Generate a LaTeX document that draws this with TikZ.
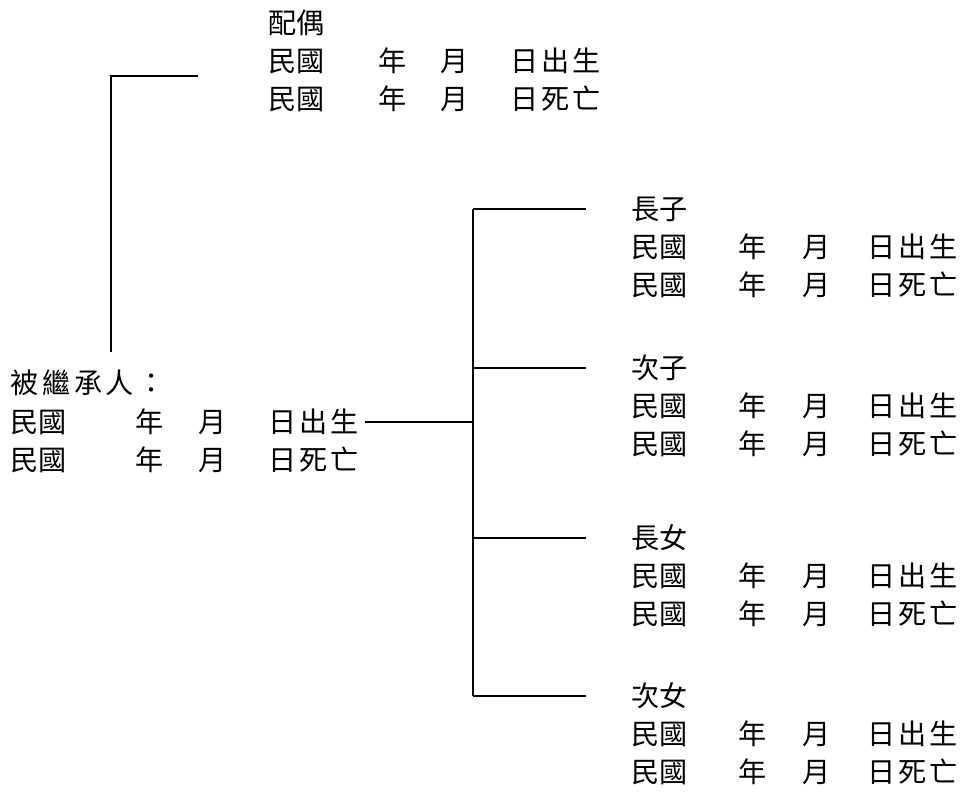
\documentclass[tikz,border=0pt]{standalone}
\usepackage{fontspec}
\setmainfont{Noto Sans CJK TC}
\usepackage{tikz}
\newcommand{\rocdate}[4]{\makebox[#1][l]{民國}\makebox[#2][l]{年}\makebox[#3][l]{月}日\kern0.7pt#4}

\begin{document}
\begin{tikzpicture}[x=0.01cm, y=-0.01cm,
    lbl/.style={anchor=west, inner sep=0pt, font=\fontsize{8pt}{10pt}\selectfont},
    tie/.style={line width=0.6pt}]
    \useasboundingbox (0,0) rectangle (965,806);
    \node[lbl] (S) at (268,23) {配偶};
    \node[lbl] (S-b) at (268,61) {\rocdate{1.10cm}{0.62cm}{0.70cm}{出\kern0.7pt 生}};
    \node[lbl] (S-d) at (268,99) {\rocdate{1.10cm}{0.62cm}{0.70cm}{死\kern0.7pt 亡}};
    \node[lbl] (D) at (10,383) {被\kern1pt 繼\kern1pt 承\kern1pt 人\kern1pt ：};
    \node[lbl] (D-b) at (10,422) {\rocdate{1.25cm}{0.63cm}{0.70cm}{出\kern0.7pt 生}};
    \node[lbl] (D-d) at (10,460) {\rocdate{1.25cm}{0.63cm}{0.70cm}{死\kern0.7pt 亡}};
    \coordinate (SK) at (111,76);
    \coordinate (SE) at (198,76);
    \coordinate (SF) at (111,352);
    \draw[tie] (SF) -- (SK) -- (SE);
    \coordinate (T) at (473,0);
    \foreach \name/\y [count=\i] in {長子/209, 次子/368, 長女/538, 次女/696} {
        \node[lbl] (K\i) at (631,\y) {\name};
        \node[lbl] (K\i-b) at (631,\y+38) {\rocdate{1.07cm}{0.64cm}{0.65cm}{出\kern0.7pt 生}};
        \node[lbl] (K\i-d) at (631,\y+76) {\rocdate{1.07cm}{0.64cm}{0.65cm}{死\kern0.7pt 亡}};
        \draw[tie] (K\i.west -| T) -- ([xshift=-0.45cm]K\i.west);
    }
    \draw[tie] (K1.west -| T) -- (K4.west -| T);
    \draw[tie] ([xshift=0.06cm]D-b.east) -- (D-b.east -| T);
\end{tikzpicture}
\end{document}
